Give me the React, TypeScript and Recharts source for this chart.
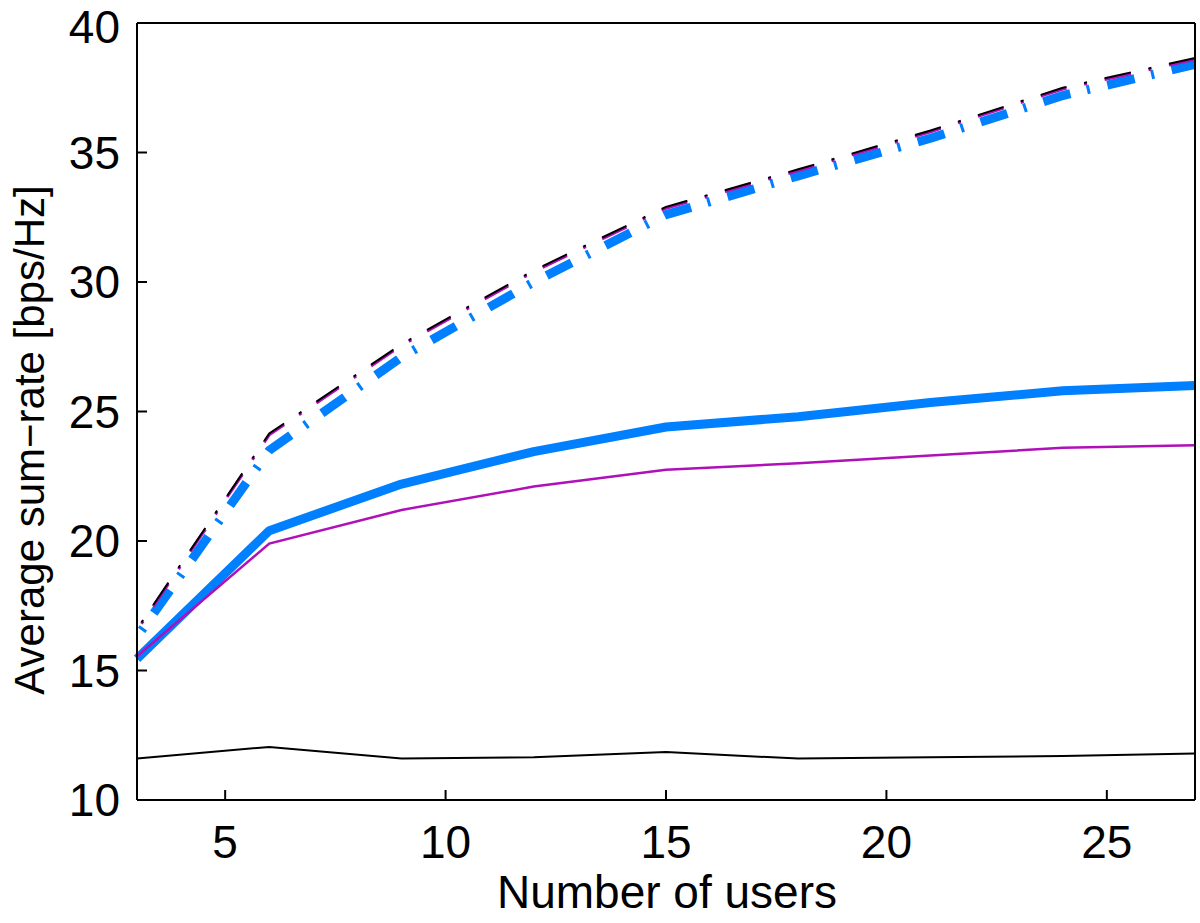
import React from "react";
import { LineChart, Line, XAxis, YAxis, Customized, ReferenceLine } from "recharts";

// number of users on the x axis
const users = [3, 6, 9, 12, 15, 18, 21, 24, 27];

// upper dash-dot group
const upperBlack = [16.6, 24.15, 27.6, 30.45, 32.9, 34.35, 35.85, 37.5, 38.65];
const upperMagenta = [16.55, 24.1, 27.55, 30.4, 32.85, 34.3, 35.8, 37.45, 38.6];
const upperBlue = [16.3, 23.5, 27.1, 30.0, 32.6, 34.1, 35.55, 37.2, 38.4];

// solid lines
const lowerBlue = [15.45, 20.4, 22.2, 23.45, 24.4, 24.8, 25.35, 25.8, 26.0];
const lowerMagenta = [15.55, 19.9, 21.2, 22.1, 22.75, 23.0, 23.3, 23.6, 23.7];
const lowerBlack = [11.6, 12.05, 11.6, 11.65, 11.85, 11.6, 11.65, 11.7, 11.8];

const xTicks = [5, 10, 15, 20, 25];
const yTicks = [10, 15, 20, 25, 30, 35, 40];

const data = users.map((u, i) => ({
  users: u,
  upperBlack: upperBlack[i],
  upperMagenta: upperMagenta[i],
  upperBlue: upperBlue[i],
  lowerBlue: lowerBlue[i],
  lowerMagenta: lowerMagenta[i],
  lowerBlack: lowerBlack[i],
}));

const BLUE = "#0080ff";
const MAGENTA = "#b010b8";
const FONT = "'Liberation Sans', Arial, Helvetica, sans-serif";

const tickStyle = { fill: "#000", fontSize: 46, fontFamily: FONT };
const axisLine = { stroke: "#000", strokeWidth: 2 };
const tickLine = { stroke: "#000", strokeWidth: 2 };

const AxisTitles = () => (
  <g fontFamily={FONT} fill="#000">
    <text x={667} y={908} textAnchor="middle" fontSize={46}>
      Number of users
    </text>
    <text
      x={44}
      y={440}
      textAnchor="middle"
      fontSize={42}
      transform="rotate(-90 44 440)"
    >
      Average sum−rate [bps/Hz]
    </text>
  </g>
);

export default function App() {
  return (
    <div style={{ position: "absolute", left: 0, top: 0, background: "#fff" }}>
      <LineChart
        width={1200}
        height={923}
        data={data}
        margin={{ top: 22, right: 4, bottom: 0, left: 0 }}
      >
        <XAxis
          dataKey="users"
          type="number"
          domain={[3, 27]}
          ticks={xTicks}
          height={123}
          tickSize={-10}
          tickMargin={35}
          tick={tickStyle}
          axisLine={axisLine}
          tickLine={tickLine}
        />
        <XAxis
          xAxisId="top"
          dataKey="users"
          type="number"
          orientation="top"
          domain={[3, 27]}
          ticks={xTicks}
          height={1}
          tickSize={-10}
          tick={false}
          axisLine={axisLine}
          tickLine={tickLine}
        />
        <YAxis
          type="number"
          domain={[10, 40]}
          ticks={yTicks}
          width={137}
          tickSize={-10}
          tickMargin={27}
          tick={tickStyle}
          axisLine={axisLine}
          tickLine={tickLine}
        />
        <YAxis
          yAxisId="right"
          orientation="right"
          type="number"
          domain={[10, 40]}
          ticks={yTicks}
          width={1}
          tickSize={-10}
          tick={false}
          axisLine={axisLine}
          tickLine={tickLine}
        />

        {/* box edges */}
        <ReferenceLine y={40} stroke="#000" strokeWidth={2} />
        <ReferenceLine x={27} stroke="#000" strokeWidth={2} />

        {/* solid lines */}
        <Line
          dataKey="lowerBlack"
          stroke="#000"
          strokeWidth={2}
          dot={false}
          isAnimationActive={false}
        />
        <Line
          dataKey="lowerBlue"
          stroke={BLUE}
          strokeWidth={9}
          strokeLinejoin="round"
          dot={false}
          isAnimationActive={false}
        />
        <Line
          dataKey="lowerMagenta"
          stroke={MAGENTA}
          strokeWidth={2.5}
          dot={false}
          isAnimationActive={false}
        />

        {/* dash-dot group */}
        <Line
          dataKey="upperBlue"
          stroke={BLUE}
          strokeWidth={9}
          strokeDasharray="28 17 3 18"
          strokeDashoffset={37}
          strokeLinejoin="round"
          dot={false}
          isAnimationActive={false}
        />
        <Line
          dataKey="upperMagenta"
          stroke={MAGENTA}
          strokeWidth={3}
          strokeDasharray="27 18 3 18"
          strokeDashoffset={37}
          dot={false}
          isAnimationActive={false}
        />
        <Line
          dataKey="upperBlack"
          stroke="#000"
          strokeWidth={2}
          strokeDasharray="27 18 3 18"
          strokeDashoffset={37}
          dot={false}
          isAnimationActive={false}
        />

        <Customized component={AxisTitles} />
      </LineChart>
    </div>
  );
}
